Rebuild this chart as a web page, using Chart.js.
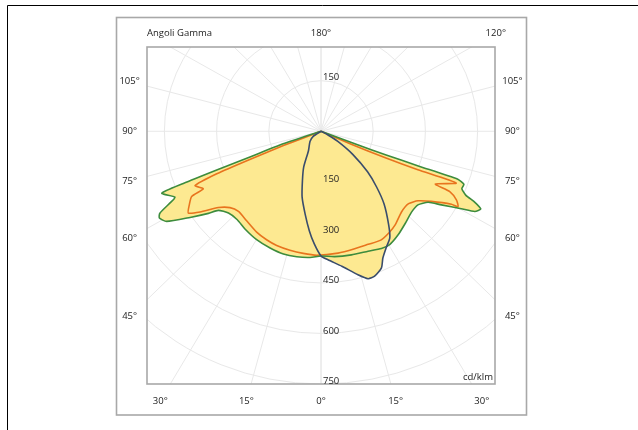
<!DOCTYPE html>
<html><head><meta charset="utf-8">
<script src="https://cdn.jsdelivr.net/npm/chart.js@4.4.1/dist/chart.umd.min.js"></script>
<style>html,body{margin:0;padding:0;background:#fff;}canvas{display:block;}</style>
</head><body>
<canvas id="c" width="638" height="430"></canvas>
<script>
// ---- tick / label data ----
const radialTicks = [150, 300, 450, 600, 750];
const sideAngleLabels = [105, 90, 75, 60, 45];
const bottomAngleLabels = [-30, -15, 0, 15, 30];
const topAngleLabels = [180, 120];
const unitLabel = 'cd/klm';
const titleLabel = 'Angoli Gamma';

// ---- series: gamma angle (deg, negative = left half-plane) and intensity (cd/klm) ----
const greenAngles = [-90, -71, -69.5, -69, -68.6, -68.1, -65, -64, -62.3, -61, -58.9, -55.8, -53, -51.5, -47.6, -42.5, -37, -29.9, -22.9, -16.5, -10.6, -4.8, 0, 6, 13.4, 20.8, 26.5, 30.4, 35.8, 41.6, 47.3, 51.9, 55.6, 57.7, 60.3, 61.7, 63.3, 64.5, 65.5, 67.2, 69, 70.1, 69.8, 69.4, 69, 90];
const greenValues = [0, 115, 218, 321, 425, 493, 463, 480, 523, 531, 518, 455, 405, 377, 360, 356, 363, 371, 376, 380, 379, 376, 370, 374, 377, 381, 389, 390, 379, 365, 354, 354, 373, 409, 464, 502, 514, 490, 457, 439, 440, 418, 300, 200, 100, 0];

const orangeAngles = [-90, -68.5, -67.8, -67.2, -66, -63.2, -62.5, -60, -57.5, -55.4, -52.5, -49.1, -44.9, -38.8, -31.7, -25.9, -20.6, -14.2, -8, -1.9, 7.7, 15.5, 22, 28, 33, 37.5, 44, 49.5, 53.5, 56.7, 60, 60.4, 62.4, 64.2, 64.5, 68.4, 67.65, 66.9, 66.1, 90];
const orangeValues = [0, 116, 221, 325, 396, 379, 419, 437, 452, 422, 372, 346, 336, 341, 352, 358, 362, 364, 366, 368, 365, 362, 362, 366, 359, 350, 333, 331, 347, 379, 433, 453, 439, 411, 364, 418, 301, 199, 95, 0];

const blueAngles = [-90, -56, -46, -32, -25, -20, -15.5, -10.5, -6.5, -3.3, 0, 3, 8.5, 14, 17.2, 19.7, 23.2, 25.3, 28.3, 32, 35, 40, 44, 48, 53, 58, 61, 90];
const blueValues = [0, 27, 44, 68, 118, 156, 203, 250, 297, 335, 370, 382, 405, 439, 458, 457, 441, 416, 394, 373, 339, 282, 230, 180, 115, 57, 23, 0];

// ---- colours ----
const fillYellow = 'rgb(253,233,145)';
const greenColor = '#3d8c3d';
const orangeColor = '#e8741e';
const blueColor = '#3a4d6c';
const gridColor = '#e8e8e8';
const textColor = '#222';
const FONT = '"Open Sans", "Noto Sans", sans-serif';

const deg = Math.PI / 180;
function toXY(angles, values) {
  return angles.map((a, i) => ({ x: values[i] * Math.sin(a * deg), y: -values[i] * Math.cos(a * deg) }));
}

const polarDecor = {
  id: 'polarDecor',
  beforeDraw(chart) {
    const ctx = chart.ctx;
    ctx.save();
    ctx.fillStyle = '#fff';
    ctx.fillRect(0, 0, chart.width, chart.height);
    ctx.strokeStyle = '#000';
    ctx.lineWidth = 1;
    ctx.beginPath();
    ctx.moveTo(7.5, chart.height); ctx.lineTo(7.5, 5.5); ctx.lineTo(chart.width, 5.5);
    ctx.stroke();
    ctx.strokeStyle = '#a8a8a8';
    ctx.lineWidth = 1.6;
    ctx.strokeRect(116.5, 17.5, 410, 397.5);
    ctx.restore();
  },
  beforeDatasetsDraw(chart) {
    const { ctx, chartArea: a, scales: { x, y } } = chart;
    const cx = x.getPixelForValue(0), cy = y.getPixelForValue(0);
    ctx.save();
    ctx.beginPath();
    ctx.rect(a.left, a.top, a.right - a.left, a.bottom - a.top);
    ctx.clip();
    ctx.strokeStyle = gridColor;
    ctx.lineWidth = 1;
    const R = 3000;
    for (let g = 0; g <= 180; g += 15) {
      for (const s of [-1, 1]) {
        ctx.beginPath();
        ctx.moveTo(cx, cy);
        ctx.lineTo(x.getPixelForValue(s * R * Math.sin(g * deg)), y.getPixelForValue(-R * Math.cos(g * deg)));
        ctx.stroke();
      }
    }
    for (const r of radialTicks) {
      ctx.beginPath();
      ctx.ellipse(cx, cy, x.getPixelForValue(r) - cx, cy - y.getPixelForValue(r), 0, 0, 2 * Math.PI);
      ctx.stroke();
    }
    ctx.restore();
  },
  afterDatasetsDraw(chart) {
    const { ctx, chartArea: a, scales: { x, y } } = chart;
    const cx = x.getPixelForValue(0);
    ctx.save();
    ctx.strokeStyle = '#a8a8a8';
    ctx.lineWidth = 1.6;
    ctx.strokeRect(a.left, a.top, a.right - a.left, a.bottom - a.top);

    ctx.fillStyle = textColor;
    ctx.font = '9.5px ' + FONT;
    // radial value labels
    ctx.textAlign = 'left';
    ctx.textBaseline = 'middle';
    for (const r of radialTicks) {
      ctx.fillText(String(r), cx + 2, y.getPixelForValue(-r) - 2.5);
    }
    ctx.fillText(String(radialTicks[0]), cx + 2, y.getPixelForValue(radialTicks[0]) - 3);
    // side gamma labels
    ctx.textAlign = 'center';
    const sideX = 550;
    for (const g of sideAngleLabels) {
      const yy = y.getPixelForValue(-sideX / Math.tan(g * deg));
      ctx.fillText(g + '°', x.getPixelForValue(-sideX), yy);
      ctx.fillText(g + '°', x.getPixelForValue(sideX), yy);
    }
    // bottom gamma labels
    const botY = -800;
    for (const g of bottomAngleLabels) {
      ctx.fillText(Math.abs(g) + '°', x.getPixelForValue(-botY * Math.tan(g * deg)), y.getPixelForValue(botY));
    }
    // top gamma labels
    const topY = 290;
    for (const g of topAngleLabels) {
      const gg = 180 - g;
      ctx.fillText(g + '°', x.getPixelForValue(topY * Math.tan(gg * deg)), y.getPixelForValue(topY));
    }
    ctx.textAlign = 'left';
    ctx.fillText(titleLabel, a.left, y.getPixelForValue(topY));
    ctx.textAlign = 'right';
    ctx.fillText(unitLabel, a.right - 2, a.bottom - 7);
    ctx.restore();
  }
};

const greenPts = toXY(greenAngles, greenValues);
const orangePts = toXY(orangeAngles, orangeValues);
const bluePts = toXY(blueAngles, blueValues);

const lineBase = { showLine: true, pointRadius: 0, pointHoverRadius: 0, tension: 0.2, borderWidth: 1.6, fill: false };

new Chart(document.getElementById('c'), {
  type: 'scatter',
  data: {
    datasets: [
      { ...lineBase, label: 'fill-green', data: greenPts, borderWidth: 0, fill: 'shape', backgroundColor: fillYellow, order: 10 },
      { ...lineBase, label: 'fill-blue', data: bluePts, borderWidth: 0, fill: 'shape', backgroundColor: fillYellow, order: 9 },
      { ...lineBase, label: 'orange', data: orangePts, borderColor: orangeColor, order: 3 },
      { ...lineBase, label: 'green', data: greenPts, borderColor: greenColor, order: 2 },
      { ...lineBase, label: 'blue', data: bluePts, borderColor: blueColor, order: 1 }
    ]
  },
  options: {
    responsive: false,
    animation: false,
    devicePixelRatio: 1,
    layout: { padding: { left: 147, right: 143, top: 47, bottom: 46 } },
    scales: {
      x: { type: 'linear', min: -500, max: 500, display: false },
      y: { type: 'linear', min: -750, max: 250, display: false }
    },
    plugins: { legend: { display: false }, tooltip: { enabled: false }, title: { display: false } }
  },
  plugins: [polarDecor]
});
</script>
</body></html>
